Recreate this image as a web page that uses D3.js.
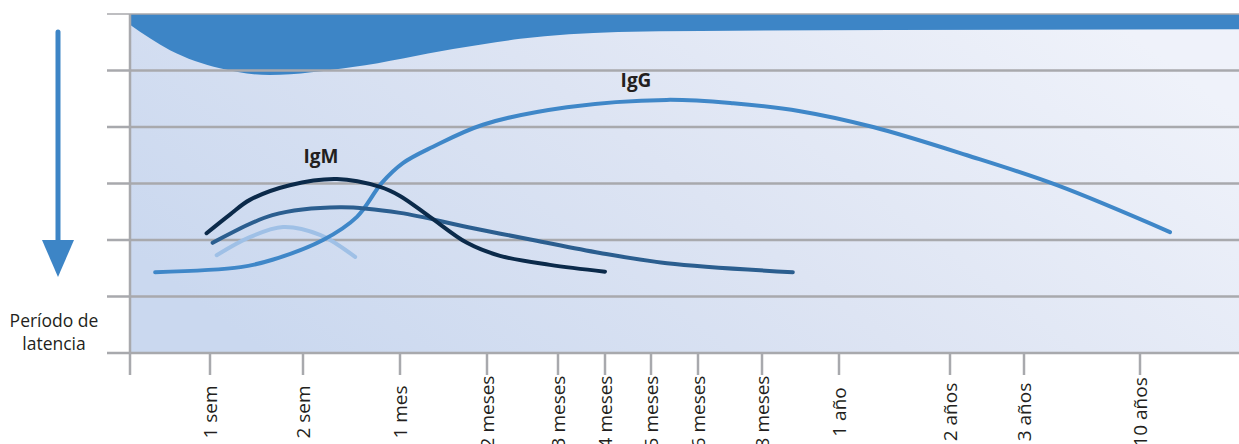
<!DOCTYPE html>
<html><head><meta charset="utf-8">
<script src="https://cdn.jsdelivr.net/npm/d3@7"></script>
<style>html,body{margin:0;padding:0;background:#fff;}svg{display:block;}</style>
</head><body>
<script>
// ---- data ----
const tickDays   = [7, 14, 30, 60, 90, 120, 150, 180, 240, 365, 730, 1095, 3650];
const tickLabels = ["1 sem","2 sem","1 mes","2 meses","3 meses","4 meses","5 meses","6 meses","8 meses","1 año","2 años","3 años","10 años"];
const levels = [0,1,2,3,4,5,6];
// [days, level]
const igG = [[2.2,1.43],[9.3,1.52],[11.7,1.65],[17.3,2.0],[22.9,2.41],[27.0,3.01],[31.0,3.36],[41.4,3.65],[58.6,4.04],[95.7,4.35],[160,4.48],[213,4.42],[302,4.28],[477,4.0],[814,3.5],[1822,2.97],[4756,2.14]];
const igM = [[6.7,2.12],[8.5,2.45],[10.0,2.71],[13.0,2.97],[19.6,3.08],[26.7,2.94],[30,2.78],[40.3,2.41],[53.1,1.95],[65.5,1.72],[86.6,1.56],[120,1.44]];
const igA = [[7.2,1.95],[11.7,2.44],[20.1,2.58],[30,2.48],[53.1,2.23],[79.4,2.0],[116.8,1.77],[160.2,1.59],[290,1.43]];
const igE = [[7.5,1.73],[10.0,2.05],[12.5,2.23],[16.8,2.09],[22.6,1.70]];
const band = [[0,5.81],[3.5,5.36],[7.75,5.04],[11.5,4.92],[22.2,5.06],[48.3,5.38],[74,5.56],[128.5,5.68],[182,5.70],[7300,5.73]];

// ---- layout ----
const W = 1239, H = 444;
const plotTop = 14, plotBottom = 353;
const svg = d3.select("body").append("svg").attr("width", W).attr("height", H);

const x = d3.scaleLinear()
  .domain([0, ...tickDays, 7300])
  .range([130, 210, 303, 400, 487, 558, 605, 651, 698, 762, 839, 950, 1024, 1140, 1239]);
const y = d3.scaleLinear().domain([0, 6]).range([plotBottom, plotTop]);

const defs = svg.append("defs");
const g = defs.append("linearGradient").attr("id","bg").attr("x1","0").attr("y1","0.7").attr("x2","1").attr("y2","0.3");
g.append("stop").attr("offset","0").attr("stop-color","#cad8ef");
g.append("stop").attr("offset","0.5").attr("stop-color","#dde4f3");
g.append("stop").attr("offset","1").attr("stop-color","#eff2fa");

svg.append("rect").attr("x", x(0)).attr("y", y(6)).attr("width", x(7300) - x(0)).attr("height", y(0) - y(6)).attr("fill","url(#bg)");

// band
svg.append("path").datum(band)
  .attr("d", d3.area().x(d => x(d[0])).y0(y(6)).y1(d => y(d[1])).curve(d3.curveMonotoneX))
  .attr("fill", "#3d85c6");

// grid lines
svg.append("g").selectAll("line").data(levels).join("line")
  .attr("x1", 107).attr("x2", W).attr("y1", d => y(d)).attr("y2", d => y(d))
  .attr("stroke", "#a8a9ad").attr("stroke-width", d => d === 6 ? 1.5 : 2.5);

// x axis ticks
svg.append("g").selectAll("line").data(tickDays).join("line")
  .attr("x1", d => x(d)).attr("x2", d => x(d)).attr("y1", y(0)).attr("y2", 375)
  .attr("stroke", "#a8a9ad").attr("stroke-width", 2.5);
svg.append("line").attr("x1", x(0)).attr("x2", x(0)).attr("y1", y(6)).attr("y2", 375)
  .attr("stroke", "#a8a9ad").attr("stroke-width", 2.5);

svg.append("g").selectAll("text").data(tickDays).join("text")
  .attr("transform", d => `translate(${x(d) + 7},412) rotate(-90)`)
  .attr("text-anchor", "middle")
  .attr("font-family", "Open Sans, sans-serif").attr("font-size", 19).attr("fill", "#231f20")
  .text((d, i) => tickLabels[i]);

// curves
const line = d3.line().x(d => x(d[0])).y(d => y(d[1])).curve(d3.curveCatmullRom.alpha(0.5));
const series = [
  {data: igE, color: "#9fc0e6"},
  {data: igG, color: "#3f87c8"},
  {data: igA, color: "#2b5e8f"},
  {data: igM, color: "#0b2a4a"}
];
svg.append("g").selectAll("path").data(series).join("path")
  .attr("d", d => line(d.data)).attr("fill","none")
  .attr("stroke", d => d.color).attr("stroke-width", 4).attr("stroke-linecap","round");

// curve labels
svg.append("text").attr("x", 321).attr("y", 163).attr("text-anchor","middle")
  .attr("font-family","Open Sans, sans-serif").attr("font-weight","bold").attr("font-size",19).attr("fill","#231f20").text("IgM");
svg.append("text").attr("x", 636).attr("y", 87).attr("text-anchor","middle")
  .attr("font-family","Open Sans, sans-serif").attr("font-weight","bold").attr("font-size",19).attr("fill","#231f20").text("IgG");

// arrow
svg.append("line").attr("x1",58).attr("x2",58).attr("y1",32).attr("y2",244)
  .attr("stroke","#3d85c6").attr("stroke-width",5).attr("stroke-linecap","round");
svg.append("path").attr("d","M42,240 L74,240 L58,277 Z").attr("fill","#3d85c6");

const lt = svg.append("text").attr("text-anchor","middle")
  .attr("font-family","Open Sans, sans-serif").attr("font-size",17.5).attr("fill","#231f20");
lt.append("tspan").attr("x",54).attr("y",327).text("Período de");
lt.append("tspan").attr("x",54).attr("y",350).text("latencia");
</script>
</body></html>
